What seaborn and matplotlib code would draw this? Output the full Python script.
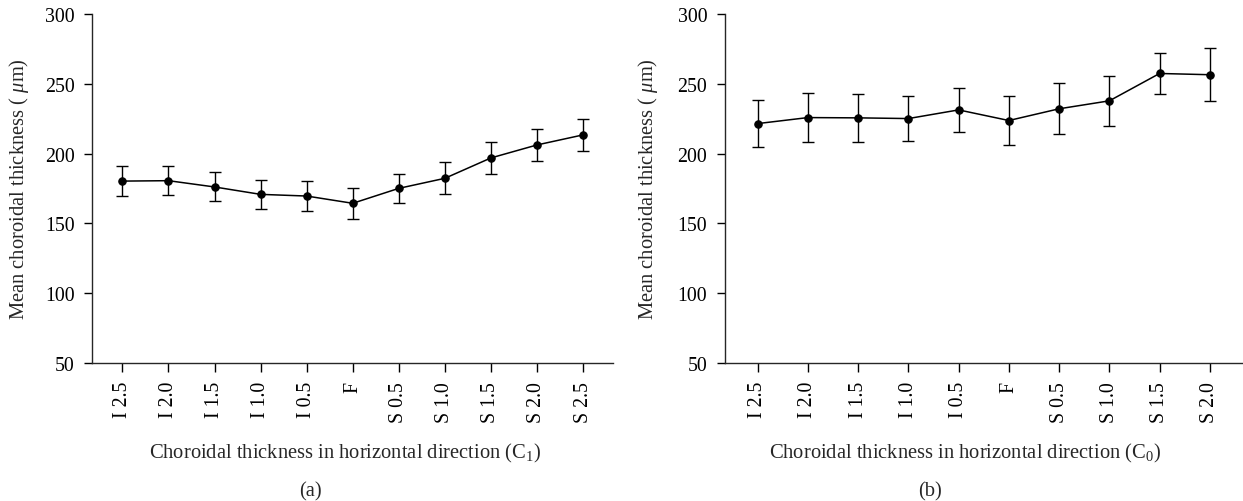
#!/usr/bin/env python3
"""Mean choroidal thickness along the horizontal meridian (C1 and C0)."""

import matplotlib.pyplot as plt
import numpy as np
import pandas as pd
import seaborn as sns

# Panel (a): C1
labels_c1 = ["I 2.5", "I 2.0", "I 1.5", "I 1.0", "I 0.5", "F",
             "S 0.5", "S 1.0", "S 1.5", "S 2.0", "S 2.5"]
mean_c1 = [180.3, 180.6, 176.1, 170.8, 169.6, 164.4,
           175.1, 182.3, 196.9, 206.2, 213.4]
err_c1 = [11.0, 10.5, 10.4, 10.2, 10.5, 10.9,
          10.6, 11.4, 11.6, 11.2, 11.7]

# Panel (b): C0
labels_c0 = ["I 2.5", "I 2.0", "I 1.5", "I 1.0", "I 0.5", "F",
             "S 0.5", "S 1.0", "S 1.5", "S 2.0"]
mean_c0 = [221.5, 225.8, 225.6, 225.1, 231.3, 223.7,
           232.1, 237.8, 257.4, 256.5]
err_c0 = [16.7, 17.8, 17.0, 16.2, 15.9, 17.5,
          18.2, 17.8, 14.5, 19.0]

sns.set_theme(style="ticks")
plt.rcParams.update({
    "font.family": ["Liberation Serif", "DejaVu Serif"],
    "mathtext.fontset": "custom",
    "mathtext.rm": "Liberation Serif",
    "mathtext.it": "Liberation Serif:italic",
    "axes.linewidth": 1.0,
    "xtick.major.width": 1.0,
    "ytick.major.width": 1.0,
    "xtick.major.size": 6.5,
    "ytick.major.size": 6,
})

TICK_FS = 14.3
LABEL_FS = 14.8


def draw_panel(ax, labels, means, errs, xlabel, label_x):
    df = pd.DataFrame({"pos": labels, "mean": means})
    sns.pointplot(data=df, x="pos", y="mean", order=labels, errorbar=None,
                  color="black", markers="o", linestyles="-",
                  markersize=5.3, linewidth=1.1, ax=ax)
    ax.errorbar(np.arange(len(labels)), means, yerr=errs, fmt="none",
                ecolor="black", elinewidth=1.0, capsize=4, capthick=1.0)
    ax.set_xlim(-0.66, len(labels) - 1 + 0.65)
    ax.set_ylim(50, 300)
    ax.set_yticks(range(50, 301, 50))
    ax.tick_params(axis="both", labelsize=TICK_FS, colors="black")
    ax.tick_params(axis="y", pad=6.5)
    ax.tick_params(axis="x", labelrotation=90, pad=6.5)
    sns.despine(ax=ax)
    ax.set_ylabel("Mean choroidal thickness ( $\\mu$m)", fontsize=LABEL_FS)
    ax.set_xlabel(xlabel, fontsize=LABEL_FS)
    ax.xaxis.set_label_coords(label_x, -0.27)
    ax.xaxis.label.set_va("baseline")


fig = plt.figure(figsize=(12.43, 5.02), dpi=100)
ax_a = fig.add_axes([92 / 1243, 138 / 502, 521 / 1243, 349 / 502])
ax_b = fig.add_axes([724.5 / 1243, 138 / 502, 518 / 1243, 349 / 502])

draw_panel(ax_a, labels_c1, mean_c1, err_c1,
           "Choroidal thickness in horizontal direction (C$_1$)", 0.486)
draw_panel(ax_b, labels_c0, mean_c0, err_c0,
           "Choroidal thickness in horizontal direction (C$_0$)", 0.465)
ax_a.yaxis.set_label_coords(-0.117, 0.5)
ax_b.yaxis.set_label_coords(-0.124, 0.5)

fig.text(310 / 1243, 6 / 502, "(a)", ha="center", va="baseline",
         fontsize=LABEL_FS)
fig.text(930 / 1243, 6 / 502, "(b)", ha="center", va="baseline",
         fontsize=LABEL_FS)

fig.savefig("out.png", dpi=100)
